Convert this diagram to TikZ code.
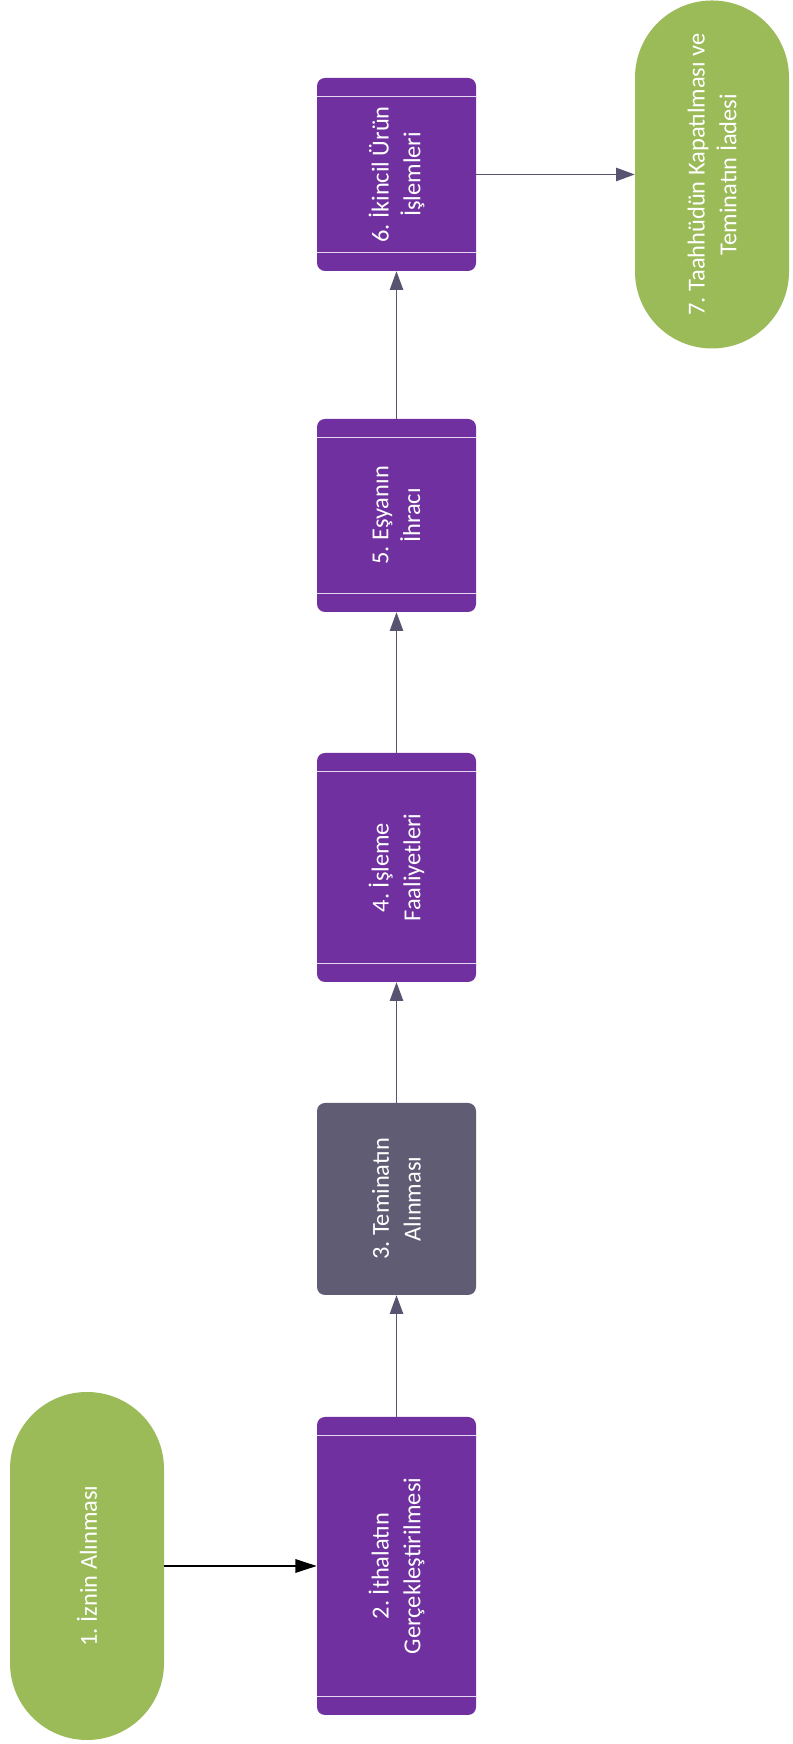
\documentclass[tikz,border=0pt]{standalone}
\usepackage{fontspec}
\setmainfont{Carlito}
\usepackage{tikz}
\usetikzlibrary{positioning,calc,arrows.meta}
\frenchspacing
\definecolor{stepviolet}{HTML}{7030A0}
\definecolor{stepgrey}{HTML}{605C74}
\definecolor{termgreen}{HTML}{9BBB59}
\definecolor{linkgrey}{HTML}{575370}
\definecolor{bandline}{HTML}{E4D6EE}
\tikzstyle{terminal} = [rectangle, rounded corners=57.75pt, minimum width=261pt, minimum height=115.5pt, fill=termgreen, text=white, align=center, rotate=90, font=\fontsize{18.3}{23.8}\selectfont]
\tikzstyle{stage} = [rectangle, rounded corners=6pt, minimum height=119.25pt, fill=stepviolet, text=white, align=center, rotate=90, font=\fontsize{18.3}{23.8}\selectfont]
\tikzstyle{band} = [draw=bandline, line width=1pt]
\tikzstyle{arrow} = [draw=linkgrey, line width=1.1pt, -{Triangle[length=14pt,width=10pt]}]

\begin{document}
\begin{tikzpicture}[x=0.75pt,y=0.75pt]
\useasboundingbox (0,0) rectangle (792,1744);

\node (izin) [terminal] at (87,178) {1. İznin Alınması};
\node (ithal) [stage, minimum width=223.5pt] at (396.5,178) {2. İthalatın\\Gerçekleştirilmesi};
\node (teminat) [stage, minimum width=144pt, fill=stepgrey] at (396.5,545) {3. Teminatın\\Alınması};
\node (isleme) [stage, minimum width=171.75pt] at (396.5,876.5) {4. İşleme\\Faaliyetleri};
\node (ihrac) [stage, minimum width=144.75pt] at (396.5,1228.5) {5. Eşyanın\\İhracı};
\node (ikincil) [stage, minimum width=144.75pt] at (396.5,1569.5) {6. İkincil Ürün\\İşlemleri};
\node (kapama) [terminal] at (712,1569.5) {7. Taahhüdün Kapatılması ve\\Teminatın İadesi};

% white bands at top and bottom of the process boxes
\draw [band] ([yshift=-14pt]ithal.north east) -- ([yshift=-14pt]ithal.south east);
\draw [band] ([yshift=14pt]ithal.north west) -- ([yshift=14pt]ithal.south west);
\draw [band] ([yshift=-14pt]isleme.north east) -- ([yshift=-14pt]isleme.south east);
\draw [band] ([yshift=14pt]isleme.north west) -- ([yshift=14pt]isleme.south west);
\draw [band] ([yshift=-14pt]ihrac.north east) -- ([yshift=-14pt]ihrac.south east);
\draw [band] ([yshift=14pt]ihrac.north west) -- ([yshift=14pt]ihrac.south west);
\draw [band] ([yshift=-14pt]ikincil.north east) -- ([yshift=-14pt]ikincil.south east);
\draw [band] ([yshift=14pt]ikincil.north west) -- ([yshift=14pt]ikincil.south west);

\draw [arrow, draw=black, line width=1.5pt, -{Triangle[length=16pt,width=10pt]}] (izin) -- (ithal);
\draw [arrow] (ithal) -- (teminat);
\draw [arrow] (teminat) -- (isleme);
\draw [arrow] (isleme) -- (ihrac);
\draw [arrow] (ihrac) -- (ikincil);
\draw [arrow] (ikincil) -- (kapama);

\end{tikzpicture}
\end{document}
